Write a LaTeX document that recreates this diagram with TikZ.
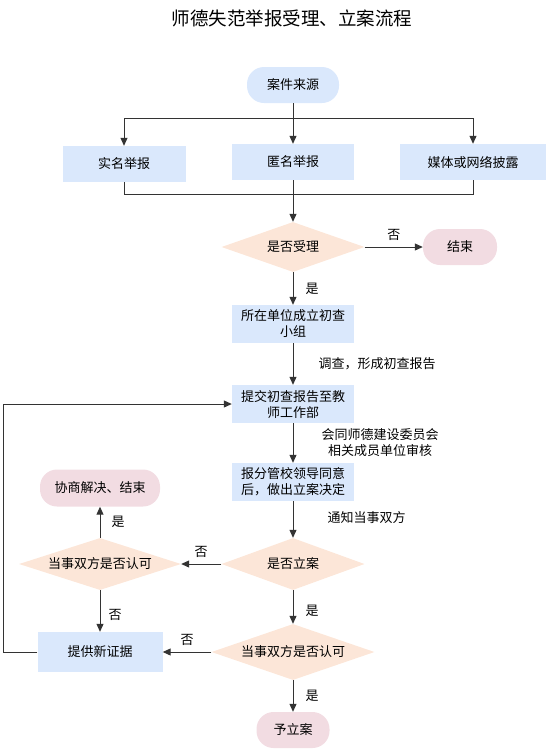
\documentclass[tikz,border=0pt]{standalone}
\usepackage{fontspec}
\setmainfont{Noto Sans CJK SC}
\usepackage{xcolor}
\usetikzlibrary{calc,arrows.meta,shapes.geometric}

\definecolor{procblue}{HTML}{DAE8FC}
\definecolor{decpeach}{HTML}{FCE6D8}
\definecolor{endpink}{HTML}{F2DCE2}
\definecolor{linegray}{HTML}{333333}

\tikzset{
	proc/.style={fill=procblue, inner sep=0pt, align=center, minimum width=122pt, minimum height=38pt},
	startend/.style={fill=#1, rounded corners=17pt, inner sep=0pt, minimum height=36pt},
	decision/.style={diamond, fill=decpeach, inner sep=0pt, aspect=3},
	flow/.style={draw=linegray, line width=1pt, -{Triangle[length=8pt,width=7pt]}},
	plain/.style={draw=linegray, line width=1pt},
	lbl/.style={inner sep=0pt, align=center}
}

\begin{document}
\begin{tikzpicture}[x=1pt,y=-1pt,font=\fontsize{13}{16}\selectfont]
			\useasboundingbox (0,0) rectangle (547,750);
			\node(title) at (292,18) {\fontsize{18.5}{20}\selectfont 师德失范举报受理、立案流程};

			% sources
			\node[startend=procblue, minimum width=92pt](source) at (293,85) {案件来源};
			\node[proc, minimum width=123pt, minimum height=36pt](named) at (124,164) {实名举报};
			\node[proc, minimum height=36pt](anon) at (293,162) {匿名举报};
			\node[proc, minimum width=146pt, minimum height=36pt](media) at (473,162) {媒体或网络披露};

			% acceptance
			\node[decision, minimum width=143pt, minimum height=50pt](accept) at (293,247) {是否受理};
			\node[startend=endpink, minimum width=74pt](finish) at (460,247) {结束};
			\node[proc](group) at (293,324) {所在单位成立初查\\小组};
			\node[proc](report) at (293,404) {提交初查报告至教\\师工作部};
			\node[proc](approve) at (293,482) {报分管校领导同意\\后，做出立案决定};

			% filing
			\node[decision, minimum width=143pt, minimum height=52pt](filing) at (293,564) {是否立案};
			\node[decision, minimum width=162pt, minimum height=52pt](agreeL) at (100,564) {当事双方是否认可};
			\node[startend=endpink, minimum width=120pt, minimum height=37pt](settle) at (100,488) {协商解决、结束};
			\node[proc, minimum width=125pt, minimum height=40pt](evidence) at (100,652) {提供新证据};
			\node[decision, minimum width=163pt, minimum height=56pt](agreeR) at (293,652) {当事双方是否认可};
			\node[startend=endpink, minimum width=73pt](filed) at (293,730) {予立案};

			\coordinate(split) at (293,118);
			\coordinate(merge) at (293,194);
			\coordinate(loop) at (3,652);

			\draw[plain] (source) -- (split);
			\draw[flow] (split) -| (named);
			\draw[flow] (split) -| (media);
			\draw[flow] (split) -- (anon);
			\draw[plain] (named) |- (merge);
			\draw[plain] (media) |- (merge);
			\draw[flow] (anon) -- (accept);

			\draw[flow] (accept) -- node[lbl, above=6pt]{否} (finish);
			\draw[flow] (accept) -- node[lbl, right=12pt]{是} (group);
			\draw[flow] (group) -- node[lbl, right=25pt]{调查，形成初查报告} (report);
			\draw[flow] (report) -- node[lbl, right=28pt]{会同师德建设委员会\\相关成员单位审核} (approve);
			\draw[flow] (approve) -- node[lbl, right=34pt, yshift=2pt]{通知当事双方} (filing);

			\draw[flow] (filing) -- node[lbl, above=6pt]{否} (agreeL);
			\draw[flow] (agreeL) -- node[lbl, right=11pt]{是} (settle);
			\draw[flow] (agreeL) -- node[lbl, right=8pt, yshift=-4pt]{否} (evidence);
			\draw[flow] (filing) -- node[lbl, right=12pt, yshift=-4pt]{是} (agreeR);
			\draw[flow] (agreeR) -- node[lbl, above=6pt]{否} (evidence);
			\draw[flow] (agreeR) -- node[lbl, right=12pt]{是} (filed);
			\draw[flow] (evidence) -- (loop) |- (report);
		\end{tikzpicture}
\end{document}
